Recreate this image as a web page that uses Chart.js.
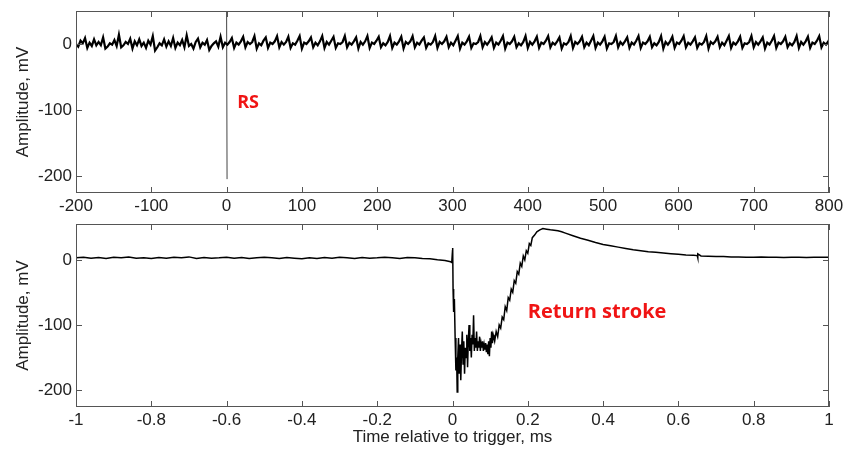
<!DOCTYPE html>
<html lang="en">
<head>
  <meta charset="UTF-8">
  <title>Return stroke record</title>
  <script src="https://cdn.jsdelivr.net/npm/chart.js"></script>
  <style>
    body { margin: 0; background: #fff; }
    .wrap { position: relative; width: 850px; height: 450px; }
    .wrap canvas { position: absolute; left: 0; }
  </style>
</head>
<body>

<div class="wrap">
  <canvas id="topChart" width="850" height="216" style="top:0; width:850px; height:216px"></canvas>
  <canvas id="bottomChart" width="850" height="234" style="top:216px; width:850px; height:234px"></canvas>
</div>

<script>
  // top panel: long window, sampled every 3 units from -200
  const topStart = -200;
  const topStep = 3;
  const topTrace = [
    0, -4, 5, 1, 9,
    -6, 2, -3, 7, -2,
    3, -2, 10, -7, -4,
    1, -1, 6, -3, 14,
    -5, -2, 3, 0, 8,
    -7, 4, -2, 7, -3,
    2, -6, 5, -1, 12,
    -10, -5, 1, -2, 7,
    -4, 4, -3, 9, -6,
    2, -2, 6, -5, 13,
    -3, 0, -7, 3, 8,
    -5, 2, -1, 6, -9,
    -3, 1, 4, -4, 11,
    -5, 2, -1, 3, 9,
    -6, 2, -1, 4, 11,
    -5, 3, 0, 3, 12,
    -7, 1, -2, 5, 10,
    -6, 2, 0, 4, 12,
    -5, 3, -1, 3, 11,
    -6, 1, -1, 5, 12,
    -7, 2, 0, 4, 10,
    -5, 2, -2, 4, 12,
    -6, 3, -1, 5, 11,
    -6, 1, 0, 3, 12,
    -5, 2, -1, 4, 10,
    -7, 3, -1, 4, 12,
    -6, 2, 0, 5, 11,
    -5, 1, -2, 3, 12,
    -6, 2, -1, 4, 11,
    -7, 3, 0, 4, 12,
    -5, 2, -1, 5, 10,
    -6, 1, -1, 3, 12,
    -6, 3, 0, 4, 11,
    -5, 2, -2, 5, 12,
    -7, 2, -1, 4, 11,
    -6, 1, 0, 3, 12,
    -5, 3, -1, 4, 10,
    -6, 2, -1, 5, 12,
    -7, 2, 0, 4, 11,
    -5, 1, -2, 3, 12,
    -6, 3, -1, 4, 11,
    -6, 2, 0, 5, 12,
    -5, 2, -1, 4, 10,
    -7, 1, -1, 3, 12,
    -6, 3, 0, 4, 11,
    -5, 2, -2, 5, 12,
    -6, 2, -1, 4, 11,
    -7, 1, 0, 3, 12,
    -5, 3, -1, 4, 10,
    -6, 2, -1, 5, 12,
    -6, 2, 0, 4, 11,
    -5, 1, -2, 3, 12,
    -7, 3, -1, 4, 11,
    -6, 2, 0, 5, 12,
    -5, 2, -1, 4, 10,
    -6, 1, -1, 3, 12,
    -7, 3, 0, 4, 11,
    -5, 2, -2, 5, 12,
    -6, 2, -1, 4, 11,
    -6, 1, 0, 3, 12,
    -5, 3, -1, 4, 10,
    -7, 2, -1, 5, 12,
    -6, 2, 0, 4, 11,
    -5, 1, -2, 3, 12,
    -6, 3, -1, 4, 11,
    -6, 2, 0, 5, 12,
    -5, 2, -1, 4, 10
  ];
  // the RS pulse itself, a single sample wide at this scale
  const rsSpikeT = [0, 0.6];
  const rsSpikeV = [60, -205];

  // bottom panel: zoom on the trigger, ms / mV
  const strokeT = [
    -1, -0.98, -0.96, -0.94, -0.92, -0.9, -0.88, -0.86, -0.84, -0.82,
    -0.8, -0.78, -0.76, -0.74, -0.72, -0.7, -0.68, -0.66, -0.64, -0.62,
    -0.6, -0.58, -0.56, -0.54, -0.52, -0.5, -0.48, -0.46, -0.44, -0.42,
    -0.4, -0.38, -0.36, -0.34, -0.32, -0.3, -0.28, -0.26, -0.24, -0.22,
    -0.2, -0.18, -0.16, -0.14, -0.12, -0.1, -0.08, -0.06, -0.04, -0.02,
    -0.005, -0.002, 0, 0.0005, 0.0015, 0.003, 0.005, 0.007, 0.009, 0.011,
    0.0125, 0.014, 0.016, 0.018, 0.02, 0.022, 0.024, 0.026, 0.028, 0.03,
    0.032, 0.034, 0.036, 0.038, 0.04, 0.042, 0.044, 0.046, 0.048, 0.05,
    0.052, 0.054, 0.056, 0.058, 0.06, 0.062, 0.064, 0.066, 0.068, 0.07,
    0.072, 0.074, 0.076, 0.078, 0.08, 0.082, 0.084, 0.086, 0.088, 0.09,
    0.092, 0.094, 0.096, 0.098, 0.1, 0.102, 0.104, 0.106, 0.108, 0.11,
    0.112, 0.116, 0.12, 0.124, 0.128, 0.132, 0.136, 0.14, 0.144, 0.148,
    0.152, 0.156, 0.16, 0.164, 0.168, 0.172, 0.176, 0.18, 0.184, 0.188,
    0.192, 0.196, 0.2, 0.204, 0.208, 0.212, 0.218, 0.224, 0.232, 0.24,
    0.25, 0.26, 0.27, 0.28, 0.29, 0.3, 0.32, 0.34, 0.36, 0.38,
    0.4, 0.42, 0.44, 0.46, 0.48, 0.5, 0.52, 0.54, 0.56, 0.58,
    0.6, 0.62, 0.64, 0.65, 0.651, 0.652, 0.66, 0.68, 0.7, 0.72,
    0.74, 0.76, 0.78, 0.8, 0.82, 0.84, 0.86, 0.88, 0.9, 0.92,
    0.94, 0.96, 0.98, 1
  ];
  const strokeV = [
    3, 4, 2.5, 3.5, 2, 4, 3, 4.5, 2.5, 3,
    2, 3.5, 2.5, 4, 3, 4.5, 2, 3.5, 2.5, 3,
    4, 2.5, 3.5, 2, 3, 4, 3, 2, 3.5, 2.5,
    1.5, 3, 2, 3.5, 2.5, 4, 3, 2, 3.5, 2.5,
    3, 4, 3, 2, 3.5, 3, 2, 1.5, 0, -1,
    -3, -4, 14, 18, -45, -80, -60, -120, -170, -150,
    -203, -150, -120, -175, -130, -185, -140, -110, -160, -125,
    -175, -135, -150, -115, -165, -125, -100, -140, -120, -150,
    -115, -130, -85, -140, -120, -135, -110, -140, -125, -135,
    -118, -140, -128, -135, -125, -140, -130, -138, -128, -142,
    -130, -145, -125, -148, -120, -135, -110, -128, -115, -120,
    -125, -110, -118, -100, -105, -88, -92, -72, -78, -58,
    -62, -45, -50, -32, -36, -18, -22, -5, -10, 6,
    0, 14, 10, 25, 22, 34, 38, 43, 46, 48,
    47, 46, 45.5, 44.5, 43, 41, 37, 33, 30, 26.5,
    23.5, 21.5, 19.5, 17.5, 15.5, 14, 12.5, 11.5, 10.5, 9.5,
    8.5, 7.5, 7, 6.5, 3, 9, 6, 5.5, 5, 5,
    4.5, 4.5, 4, 4, 4.5, 4, 4, 3.5, 4, 4,
    3.5, 4, 4, 4
  ];

  const topXTicks = [-200, -100, 0, 100, 200, 300, 400, 500, 600, 700, 800];
  const bottomXTicks = [-1, -0.8, -0.6, -0.4, -0.2, 0, 0.2, 0.4, 0.6, 0.8, 1];
  const yTicks = [-200, -100, 0];

  const tickFont = { family: '"Liberation Sans", Arial, sans-serif', size: 17 };
  const ink = '#222';

  // matlab style box with inward ticks, plus a red note placed in data units
  const frame = {
    id: 'frame',
    afterDatasetsDraw(chart, args, opts) {
      const { ctx, chartArea: a, scales: { x, y } } = chart;
      ctx.save();
      ctx.strokeStyle = '#555';
      ctx.lineWidth = 1;
      ctx.strokeRect(a.left + 0.5, a.top + 0.5, a.right - a.left - 1, a.bottom - a.top - 1);
      ctx.beginPath();
      x.ticks.forEach(t => {
        const px = Math.round(x.getPixelForValue(t.value)) + 0.5;
        ctx.moveTo(px, a.bottom); ctx.lineTo(px, a.bottom - 6);
        ctx.moveTo(px, a.top); ctx.lineTo(px, a.top + 6);
      });
      y.ticks.forEach(t => {
        const py = Math.round(y.getPixelForValue(t.value)) + 0.5;
        ctx.moveTo(a.left, py); ctx.lineTo(a.left + 6, py);
        ctx.moveTo(a.right, py); ctx.lineTo(a.right - 6, py);
      });
      ctx.stroke();
      if (opts.text) {
        ctx.fillStyle = '#f01414';
        ctx.font = 'bold ' + opts.size + 'px "Open Sans", "Noto Sans", sans-serif';
        ctx.textAlign = 'left';
        ctx.textBaseline = 'middle';
        ctx.fillText(opts.text, x.getPixelForValue(opts.at[0]), y.getPixelForValue(opts.at[1]));
      }
      ctx.restore();
    }
  };

  function xAxis(min, max, ticks, height, title) {
    return {
      type: 'linear',
      min: min,
      max: max,
      grid: { display: false, drawTicks: false },
      border: { display: false },
      ticks: {
        padding: 3,
        font: tickFont,
        color: ink,
        maxRotation: 0,
        callback: v => String(+Number(v).toFixed(1))
      },
      title: title ? {
        display: true,
        text: title,
        font: tickFont,
        color: ink,
        padding: { top: 0, bottom: 2 }
      } : { display: false },
      afterBuildTicks: s => { s.ticks = ticks.map(v => ({ value: v })); },
      afterFit: s => {
        s.height = height;
        s.paddingLeft = 0;
        s.paddingRight = 0;
      }
    };
  }

  function yAxis(min, max) {
    return {
      type: 'linear',
      min: min,
      max: max,
      grid: { display: false, drawTicks: false },
      border: { display: false },
      ticks: { padding: 4, font: tickFont, color: ink },
      title: {
        display: true,
        text: 'Amplitude, mV',
        font: tickFont,
        color: ink,
        padding: { top: 13, bottom: 0 }
      },
      afterBuildTicks: s => { s.ticks = yTicks.map(v => ({ value: v })); },
      afterFit: s => {
        s.width = 76;
        s.paddingTop = 0;
        s.paddingBottom = 0;
      }
    };
  }

  const common = {
    responsive: false,
    maintainAspectRatio: false,
    devicePixelRatio: 1,
    animation: false,
    events: [],
    elements: { point: { radius: 0 }, line: { tension: 0 } }
  };

  new Chart(document.getElementById('topChart').getContext('2d'), {
    type: 'line',
    data: {
      datasets: [
        {
          data: topTrace.map((v, i) => ({ x: topStart + i * topStep, y: v })),
          borderColor: '#000',
          borderWidth: 2.2
        },
        {
          data: rsSpikeT.map((t, i) => ({ x: t, y: rsSpikeV[i] })),
          borderColor: '#444',
          borderWidth: 1
        }
      ]
    },
    options: Object.assign({}, common, {
      layout: { padding: { top: 11, right: 21, left: 0, bottom: 0 } },
      scales: {
        x: xAxis(-200, 800, topXTicks, 23, null),
        y: yAxis(-226, 50)
      },
      plugins: {
        legend: { display: false },
        tooltip: { enabled: false },
        frame: { text: 'RS', at: [14, -89], size: 18 }
      }
    }),
    plugins: [frame]
  });

  new Chart(document.getElementById('bottomChart').getContext('2d'), {
    type: 'line',
    data: {
      datasets: [{
        data: strokeT.map((t, i) => ({ x: t, y: strokeV[i] })),
        borderColor: '#000',
        borderWidth: 1.5
      }]
    },
    options: Object.assign({}, common, {
      layout: { padding: { top: 8, right: 21, left: 0, bottom: 0 } },
      scales: {
        x: xAxis(-1, 1, bottomXTicks, 43, 'Time relative to trigger, ms'),
        y: yAxis(-226, 55)
      },
      plugins: {
        legend: { display: false },
        tooltip: { enabled: false },
        frame: { text: 'Return stroke', at: [0.2, -80], size: 20 }
      }
    }),
    plugins: [frame]
  });
</script>

</body>
</html>
